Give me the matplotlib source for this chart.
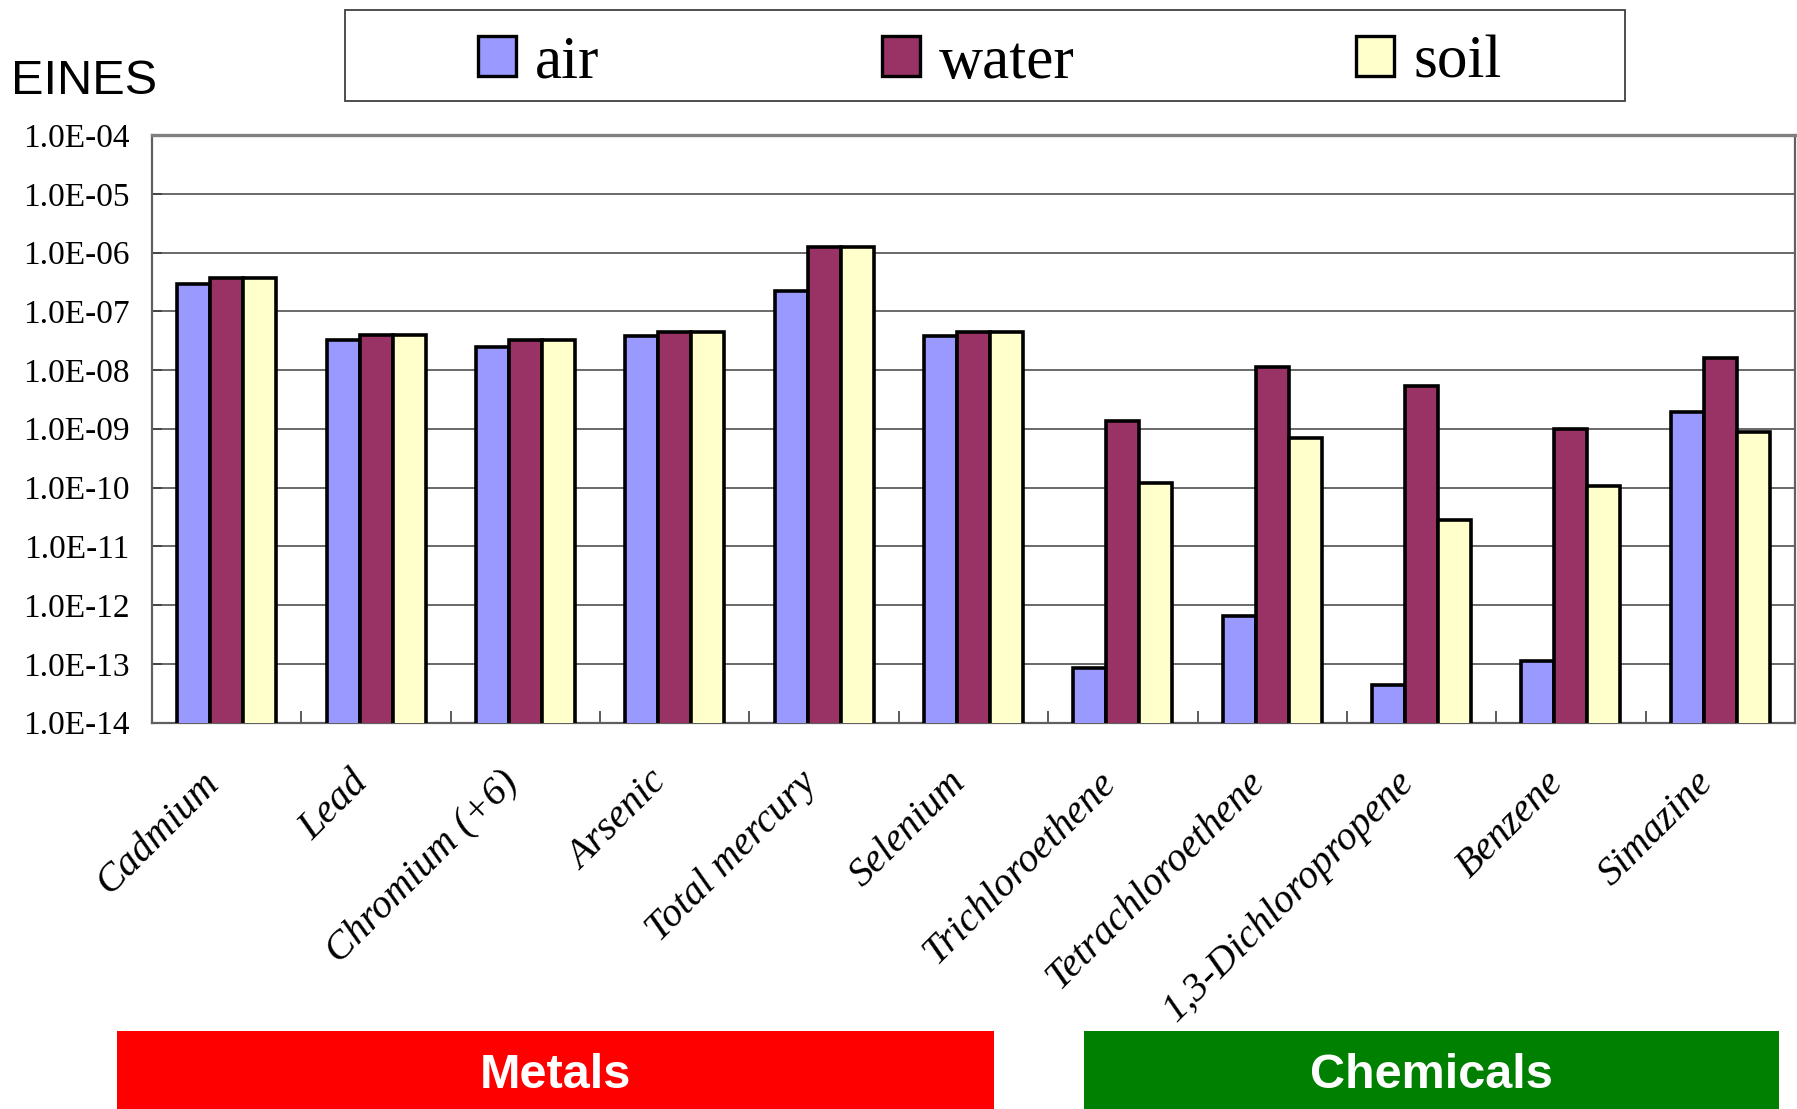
import matplotlib
matplotlib.use("Agg")
import matplotlib.pyplot as plt
from matplotlib.patches import Rectangle, Patch
from matplotlib.ticker import FixedLocator, FuncFormatter, NullLocator
import numpy as np

# EINES per substance and release compartment
categories = ["Cadmium", "Lead", "Chromium (+6)", "Arsenic", "Total mercury", "Selenium",
              "Trichloroethene", "Tetrachloroethene", "1,3-Dichloropropene", "Benzene", "Simazine"]
air = [2.9e-7, 3.2e-8, 2.5e-8, 3.8e-8, 2.25e-7, 3.8e-8, 8.5e-14, 6.5e-13, 4.4e-14, 1.1e-13, 1.9e-9]
water = [3.7e-7, 3.9e-8, 3.2e-8, 4.4e-8, 1.22e-6, 4.4e-8, 1.35e-9, 1.14e-8, 5.3e-9, 9.8e-10, 1.57e-8]
soil = [3.7e-7, 3.9e-8, 3.2e-8, 4.4e-8, 1.22e-6, 4.4e-8, 1.17e-10, 6.9e-10, 2.8e-11, 1.05e-10, 8.7e-10]
series_names = ["air", "water", "soil"]
series_colors = ["#9999FF", "#993366", "#FFFFCC"]
y_ticks = [1e-14, 1e-13, 1e-12, 1e-11, 1e-10, 1e-9, 1e-8, 1e-7, 1e-6, 1e-5, 1e-4]
group_labels = ["Metals", "Chemicals"]
group_colors = ["#FF0000", "#008000"]

W, H = 1797, 1109
fig = plt.figure(figsize=(W / 100, H / 100), dpi=100)
ax = fig.add_axes([152 / W, 1 - 722.5 / H, (1795 - 152) / W, (722.5 - 135) / H])

ax.set_yscale("log")
x = np.arange(len(categories))
bw = 0.221
for k, (vals, name, col) in enumerate(zip([air, water, soil], series_names, series_colors)):
    ax.bar(x + (k - 1) * bw, vals, width=bw, color=col, edgecolor="black",
           linewidth=2.6, label=name, zorder=3)

ax.set_xlim(-0.5, len(categories) - 0.5)
ax.set_ylim(y_ticks[0], y_ticks[-1])
ax.yaxis.set_major_locator(FixedLocator(y_ticks))
ax.yaxis.set_minor_locator(NullLocator())
ax.yaxis.set_major_formatter(FuncFormatter(lambda v, p: f"{v:.1E}"))
ax.set_axisbelow(True)
ax.grid(axis="y", color="#505050", linewidth=1.2)

ax.tick_params(axis="y", direction="in", length=7, width=1.2, color="#404040", pad=16,
               labelsize=24)
for lab in ax.get_yticklabels():
    lab.set_fontfamily("Liberation Serif")

ax.set_xticks(x)
ax.set_xticklabels(categories, rotation=45, ha="right", va="top",
                   fontfamily="Liberation Serif", fontstyle="italic", fontsize=29)
ax.tick_params(axis="x", which="major", length=0, pad=30)
ax.set_xticks(np.arange(0.5, len(categories) - 0.5, 1.0), minor=True)
ax.tick_params(axis="x", which="minor", direction="in", length=8.5, width=1.2, color="#404040")

for side in ["left", "bottom", "right"]:
    ax.spines[side].set_color("#606060")
    ax.spines[side].set_linewidth(1.6)
ax.spines["top"].set_color("#808080")
ax.spines["top"].set_linewidth(2.4)

# legend frame and entries
fig.patches.append(Rectangle((345 / W, 1 - 101 / H), 1280 / W, 91 / H,
                             transform=fig.transFigure, facecolor="white",
                             edgecolor="#404040", linewidth=1.3))
fs = 44
fpx = fs * 100 / 72
handles = [Patch(facecolor=c, edgecolor="black", linewidth=2.4, label=n)
           for n, c in zip(series_names, series_colors)]
fig.legend(handles=handles, loc="center", bbox_to_anchor=(990 / W, 1 - 63 / H),
           ncol=3, frameon=False, prop={"family": "Liberation Serif", "size": fs},
           handlelength=38 / fpx, handleheight=38 / fpx, handletextpad=19 / fpx,
           columnspacing=282 / fpx, borderpad=0, borderaxespad=0)

fig.text(11 / W, 1 - 81 / H, "EINES", ha="left", va="center", fontsize=35,
         fontfamily="Liberation Sans")

# substance group bands
bands = [(117, 994), (1084, 1779)]
for (x0, x1), lab, col in zip(bands, group_labels, group_colors):
    fig.patches.append(Rectangle((x0 / W, 0), (x1 - x0) / W, (1109 - 1031) / H,
                                 transform=fig.transFigure, facecolor=col, edgecolor="none"))
    fig.text((x0 + x1) / 2 / W, 1 - 1075 / H, lab, ha="center", va="center",
             color="white", fontsize=35, fontweight="bold", fontfamily="Liberation Sans")

fig.savefig("out.png", dpi=100)
